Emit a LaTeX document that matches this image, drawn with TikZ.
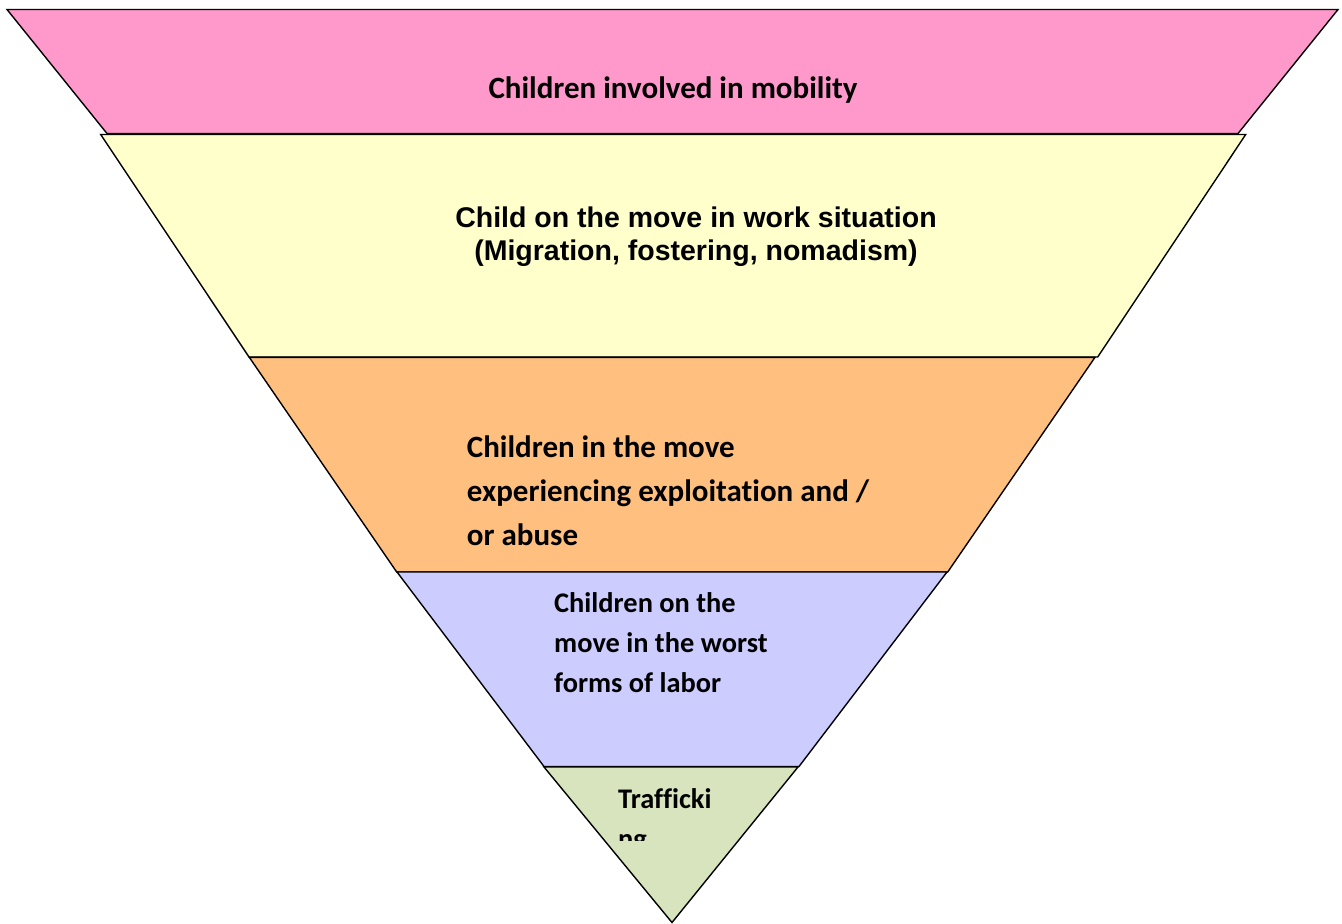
\documentclass[tikz,border=0pt]{standalone}
\usepackage{fontspec}
\newfontfamily\calfont[Ligatures=NoCommon]{Carlito}
\newfontfamily\arialfont{Liberation Sans}
\definecolor{pinkL}{HTML}{FF99CC}
\definecolor{yellowL}{HTML}{FFFFCC}
\definecolor{orangeL}{HTML}{FFBF7F}
\definecolor{purpleL}{HTML}{CCCCFF}
\definecolor{greenL}{HTML}{D7E4BD}
\begin{document}
\begin{tikzpicture}[x=1pt,y=-1pt,
  layer/.style={draw=black,line width=1.4pt,line join=miter},
  cal/.style={inner sep=0pt,font=\calfont\bfseries\fontsize{#1}{#1}\selectfont},
  ari/.style={inner sep=0pt,font=\arialfont\bfseries\fontsize{#1}{#1}\selectfont}]
\useasboundingbox (0,0) rectangle (1342,924);
% layers
\filldraw[layer,fill=pinkL] (7,9.5) -- (1338,9.5) -- (1238,133.5) -- (107,133.5) -- cycle;
\filldraw[layer,fill=yellowL] (100.7,134.5) -- (1245.7,134.5) -- (1097.7,357) -- (249,357) -- cycle;
\filldraw[layer,fill=orangeL] (249.3,357.3) -- (1095,357.3) -- (947.7,572) -- (396.7,572) -- cycle;
\filldraw[layer,fill=purpleL] (397,572) -- (947,572) -- (799,766.5) -- (544,766.5) -- cycle;
\filldraw[layer,fill=greenL] (544,767) -- (798,767) -- (672,922.5) -- cycle;
% texts
\node[cal=31,anchor=base] (t1) at (673,98) {Children involved in mobility};
\node[ari=28.5,anchor=base] (t2a) at (696,227) {Child on the move in work situation};
\node[ari=28.5,anchor=base] (t2b) at (696,260) {(Migration, fostering, nomadism)};
\node[cal=31,anchor=base west] (t3a) at (466.7,457) {Children in the move};
\node[cal=31,anchor=base west] (t3b) at (466.7,501) {experiencing exploitation and /};
\node[cal=31,anchor=base west] (t3c) at (466.7,545) {or abuse};
\node[cal=28.4,anchor=base west] (t4a) at (554,612) {Children on the};
\node[cal=28.4,anchor=base west] (t4b) at (554,652) {move in the worst};
\node[cal=28.4,anchor=base west] (t4c) at (554,692) {forms of labor};
\node[cal=28.4,anchor=base west] (t5a) at (618,808) {Trafficki};
\begin{scope}
  \clip (540,820) rectangle (800,840.5);
  \node[cal=28.4,anchor=base west] (t5b) at (618,848) {ng};
\end{scope}
\end{tikzpicture}
\end{document}
